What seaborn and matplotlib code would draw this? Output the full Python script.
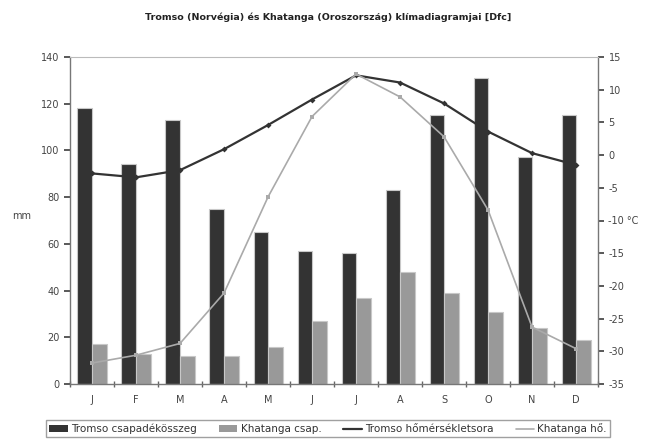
import numpy as np
import pandas as pd
import matplotlib
matplotlib.use("Agg")
import matplotlib.pyplot as plt
import seaborn as sns
from matplotlib.patches import Patch
from matplotlib.lines import Line2D

months = ["J", "F", "M", "A", "M", "J", "J", "A", "S", "O", "N", "D"]
tromso_precip = [118, 94, 113, 75, 65, 57, 56, 83, 115, 131, 97, 115]
khatanga_precip = [17, 13, 12, 12, 16, 27, 37, 48, 39, 31, 24, 19]
tromso_temp = [-2.8, -3.4, -2.3, 0.9, 4.6, 8.5, 12.2, 11.1, 7.9, 3.6, 0.3, -1.5]
khatanga_temp = [-31.8, -30.6, -28.8, -21.1, -6.4, 5.9, 12.4, 8.9, 2.8, -8.4, -26.3, -29.6]

title = "Tromso (Norvégia) és Khatanga (Oroszország) klímadiagramjai [Dfc]"
lab_tp = "Tromso csapadékösszeg"
lab_kp = "Khatanga csap."
lab_tt = "Tromso hőmérsékletsora"
lab_kt = "Khatanga hő."

sns.set_theme(style="white")
plt.rcParams['font.family'] = ['DejaVu Sans']

idx = list(range(len(months)))
df = pd.DataFrame({
    "pos": idx * 2,
    "val": tromso_precip + khatanga_precip,
    "series": [lab_tp] * 12 + [lab_kp] * 12,
})

dark = "#333333"
gray = "#999999"

fig = plt.figure(figsize=(6.56, 4.41), dpi=100)
ax = fig.add_axes([0.1067, 0.1293, 0.805, 0.7414])
sns.barplot(data=df, x="pos", y="val", hue="series", palette=[dark, gray],
            width=0.66, ax=ax, legend=False, edgecolor="#c8c8c8", linewidth=0.8,
            saturation=1)
ax.set_ylim(0, 140)
ax.set_xlim(-0.5, 11.5)
ax.set_yticks(range(0, 141, 20))
ax.set_xticks(idx)
ax.set_xticklabels(months)
ax.set_xlabel("")
ax.set_ylabel("mm", rotation=0, fontsize=7, color="#444444", labelpad=14)
ax.tick_params(axis="y", labelsize=7, colors="#444444", length=4, direction="out", left=True)
ax.tick_params(axis="x", labelsize=7, colors="#444444", length=0, pad=8)
ax.set_xticks(np.arange(-0.5, 12, 1), minor=True)
ax.tick_params(axis="x", which="minor", length=4, direction="inout", bottom=True, color="#666666")

ax2 = ax.twinx()
sns.lineplot(x=idx, y=tromso_temp, ax=ax2, color=dark, linewidth=1.6,
             marker="D", markersize=3, markeredgewidth=0)
sns.lineplot(x=idx, y=khatanga_temp, ax=ax2, color="#aaaaaa", linewidth=1.2,
             marker="s", markersize=2.5, markeredgewidth=0)
ax2.set_ylim(-35, 15)
ax2.set_yticks(range(-35, 16, 5))
ax2.set_yticklabels([("-10 °C" if v == -10 else str(v)) for v in range(-35, 16, 5)])
ax2.tick_params(axis="y", labelsize=7, colors="#444444", length=4, direction="out", right=True)
ax2.set_xlim(-0.5, 11.5)

for a in (ax, ax2):
    for s in a.spines.values():
        s.set_visible(False)
ax.spines["left"].set_visible(True)
ax.spines["bottom"].set_visible(True)
ax2.spines["right"].set_visible(True)
ax2.spines["top"].set_visible(True)
for a, s in ((ax, "left"), (ax, "bottom"), (ax2, "right")):
    a.spines[s].set_color("#777777")
    a.spines[s].set_linewidth(1.0)
ax2.spines["top"].set_color("#bbbbbb")
ax2.spines["top"].set_linewidth(0.8)

fig.suptitle(title, fontsize=6.8, fontweight="bold", y=0.972, color="#222222")

handles = [
    Patch(facecolor=dark, edgecolor="none", label=lab_tp),
    Patch(facecolor=gray, edgecolor="none", label=lab_kp),
    Line2D([0], [0], color=dark, lw=1.6, label=lab_tt),
    Line2D([0], [0], color="#aaaaaa", lw=1.2, label=lab_kt),
]
leg = fig.legend(handles=handles, loc="lower left", bbox_to_anchor=(0.07, 0.008, 0.86, 0.05),
                 mode="expand", ncol=4, fontsize=7.5, frameon=True, fancybox=False,
                 handlelength=1.8, handletextpad=0.3, columnspacing=1.0,
                 borderpad=0.3, borderaxespad=0)
leg.get_frame().set_edgecolor("#888888")
leg.get_frame().set_linewidth(1.0)
for t in leg.get_texts():
    t.set_color("#333333")

fig.savefig("out.png", dpi=100, facecolor="white")
